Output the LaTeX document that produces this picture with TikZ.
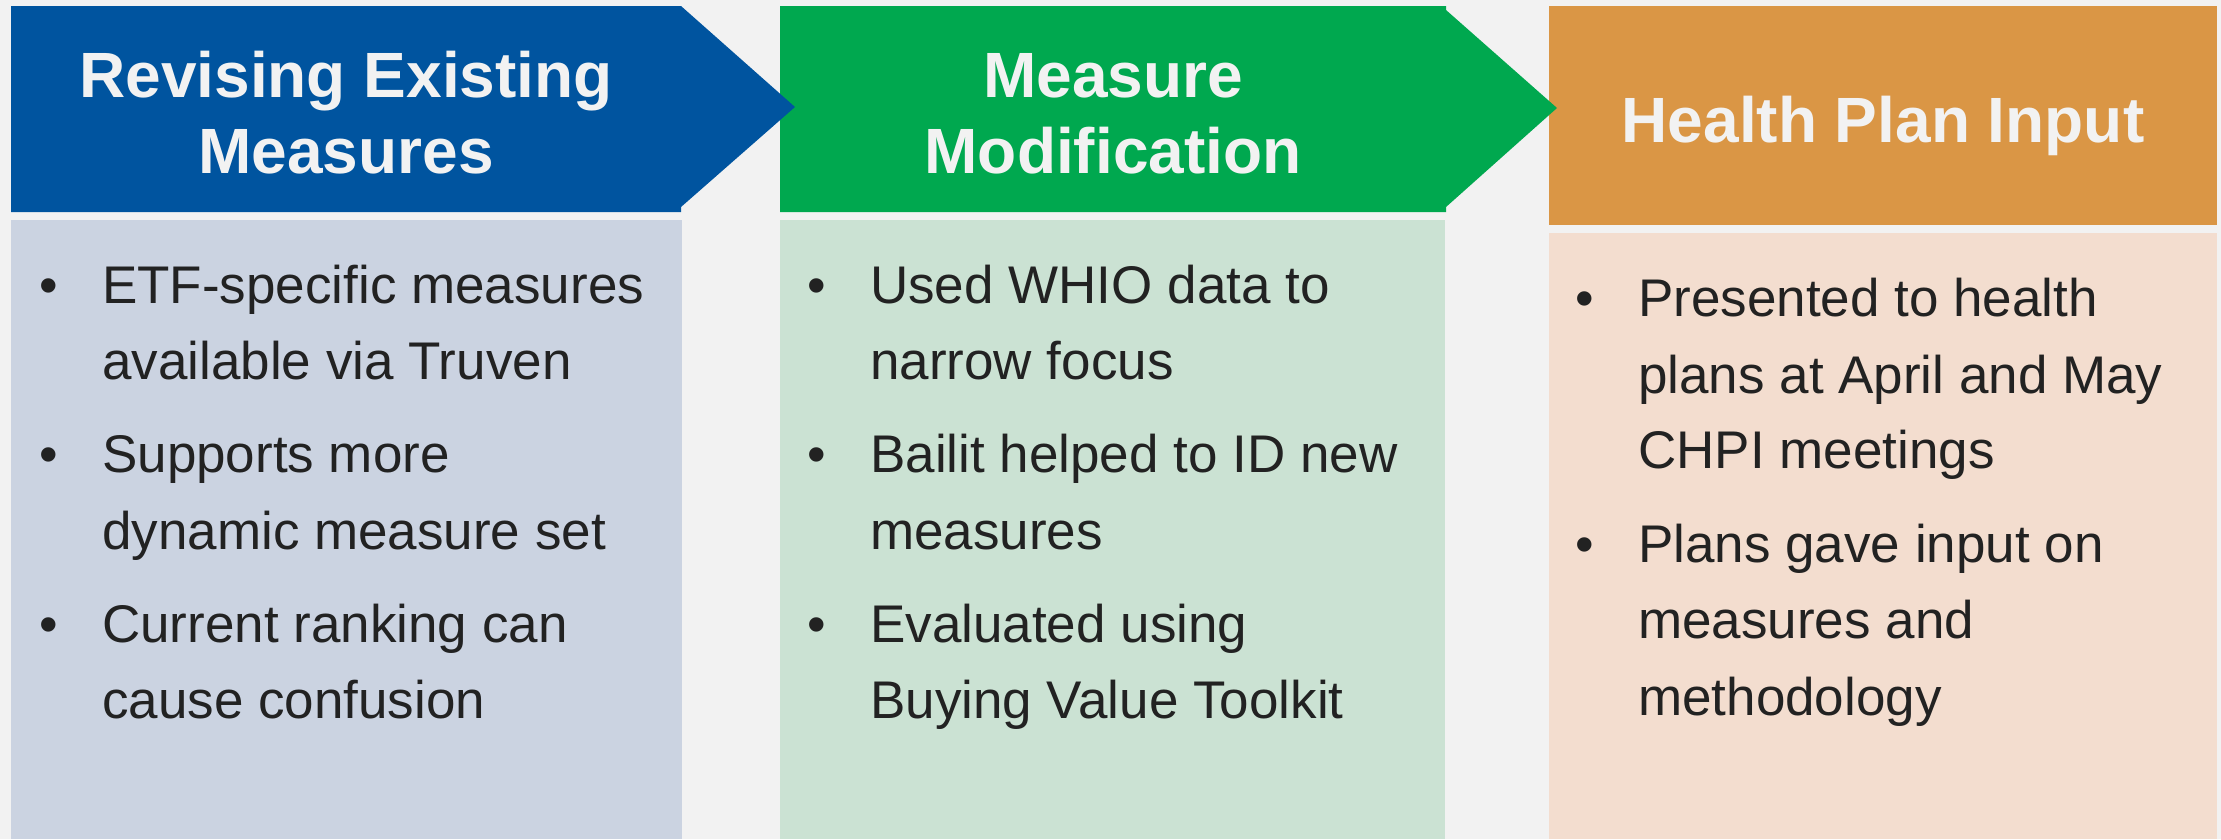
\documentclass[tikz,border=0pt]{standalone}
\usepackage{fontspec}
\setmainfont{Liberation Sans}
\definecolor{bgc}{HTML}{F2F2F2}
\definecolor{bluehd}{HTML}{00549F}
\definecolor{greenhd}{HTML}{00A84F}
\definecolor{orangehd}{HTML}{DA9645}
\definecolor{bluebd}{HTML}{CBD3E1}
\definecolor{greenbd}{HTML}{CBE2D3}
\definecolor{orangebd}{HTML}{F3DDCF}
\definecolor{txtc}{HTML}{222222}
\definecolor{hdtxt}{HTML}{F2F2F2}
\tikzset{
  hdtext/.style={anchor=base, inner sep=0pt, text=hdtxt, font=\fontsize{64}{76}\selectfont\bfseries},
  bodytext/.style={anchor=base west, inner sep=0pt, text=txtc, font=\fontsize{53}{76}\selectfont},
  bul/.style={anchor=base, inner sep=0pt, text=txtc, font=\fontsize{53}{76}\selectfont}
}
\begin{document}
\begin{tikzpicture}[x=1pt,y=-1pt]
\useasboundingbox (0,0) rectangle (2221,839);
\fill[bgc] (0,0) rectangle (2221,839);
% body panels
\fill[bluebd] (11,220) rectangle (682,839);
\fill[greenbd] (780,220) rectangle (1445,839);
\fill[orangebd] (1549,233) rectangle (2217,839);
% headers (drawn right to left so tips overlap)
\fill[orangehd] (1549,6) rectangle (2217,225);
\fill[greenhd] (780,6) -- (1446,6) -- (1446,10) -- (1557,108) -- (1446,207) -- (1446,212) -- (780,212) -- cycle;
\fill[bluehd] (11,6) -- (681,6) -- (795,107) -- (681,207) -- (681,212) -- (11,212) -- cycle;
% header texts
\node[hdtext] (h1a) at (346,97) {Revising Existing};
\node[hdtext] (h1b) at (346,173) {Measures};
\node[hdtext] (h2a) at (1113,97) {Measure};
\node[hdtext] (h2b) at (1113,173) {Modification};
\node[hdtext] (h3a) at (1883,142) {Health Plan Input};
% column 1
\node[bul] (b11) at (49,303) {•};
\node[bodytext] (t11a) at (102,303) {ETF-specific measures};
\node[bodytext] (t11b) at (102,379) {available via Truven};
\node[bul] (b12) at (49,472) {•};
\node[bodytext] (t12a) at (102,472) {Supports more};
\node[bodytext] (t12b) at (102,549) {dynamic measure set};
\node[bul] (b13) at (49,642) {•};
\node[bodytext] (t13a) at (102,642) {Current ranking can};
\node[bodytext] (t13b) at (102,718) {cause confusion};
% column 2
\node[bul] (b21) at (817,303) {•};
\node[bodytext] (t21a) at (870,303) {Used WHIO data to};
\node[bodytext] (t21b) at (870,379) {narrow focus};
\node[bul] (b22) at (817,472) {•};
\node[bodytext] (t22a) at (870,472) {Bailit helped to ID new};
\node[bodytext] (t22b) at (870,549) {measures};
\node[bul] (b23) at (817,642) {•};
\node[bodytext] (t23a) at (870,642) {Evaluated using};
\node[bodytext] (t23b) at (870,718) {Buying Value Toolkit};
% column 3
\node[bul] (b31) at (1585,316) {•};
\node[bodytext] (t31a) at (1638,316) {Presented to health};
\node[bodytext] (t31b) at (1638,393) {plans at April and May};
\node[bodytext] (t31c) at (1638,468) {CHPI meetings};
\node[bul] (b32) at (1585,562) {•};
\node[bodytext] (t32a) at (1638,562) {Plans gave input on};
\node[bodytext] (t32b) at (1638,638) {measures and};
\node[bodytext] (t32c) at (1638,715) {methodology};
\end{tikzpicture}
\end{document}
